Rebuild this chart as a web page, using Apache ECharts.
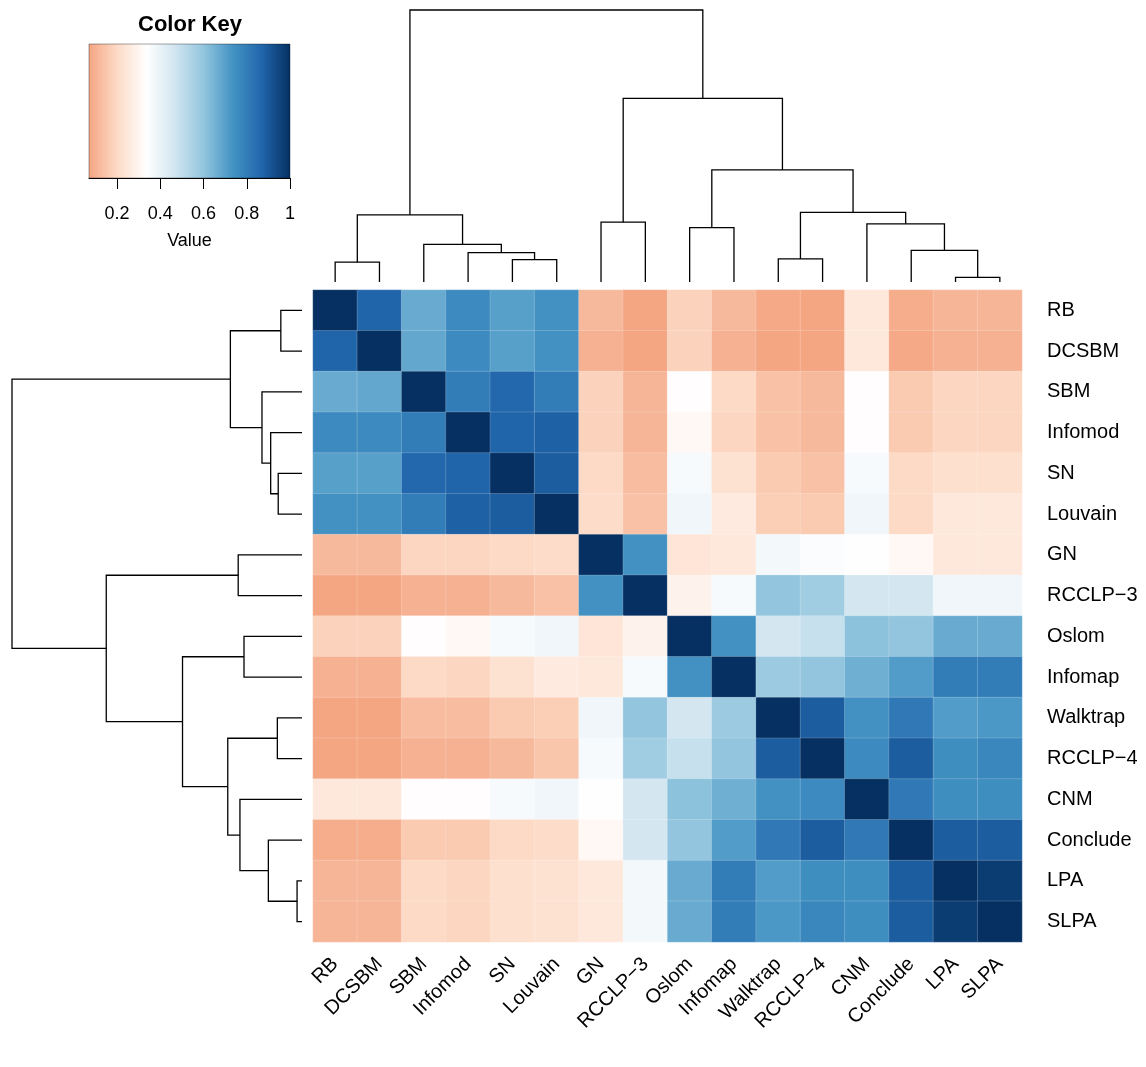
<!DOCTYPE html>
<html>
<head>
<meta charset="utf-8">
<title>Method similarity heatmap</title>
<script src="https://cdn.jsdelivr.net/npm/echarts@6/dist/echarts.min.js"></script>
<style>
  html, body { margin: 0; padding: 0; background: #fff; }
  #chart { width: 1146px; height: 1067px; }
</style>
</head>
<body>
<div id="chart"></div>
<script>
const methods = ['RB', 'DCSBM', 'SBM', 'Infomod', 'SN', 'Louvain', 'GN', 'RCCLP−3',
  'Oslom', 'Infomap', 'Walktrap', 'RCCLP−4', 'CNM', 'Conclude', 'LPA', 'SLPA']

// one row per method, same column order as methods
const rowRB       = [1.00, 0.87, 0.67, 0.76, 0.70, 0.74, 0.12, 0.07, 0.18, 0.12, 0.08, 0.07, 0.25, 0.09, 0.11, 0.11]
const rowDCSBM    = [0.87, 1.00, 0.68, 0.76, 0.70, 0.74, 0.10, 0.07, 0.18, 0.10, 0.07, 0.07, 0.25, 0.08, 0.10, 0.10]
const rowSBM      = [0.67, 0.68, 1.00, 0.80, 0.86, 0.80, 0.18, 0.11, 0.33, 0.20, 0.14, 0.12, 0.33, 0.16, 0.19, 0.19]
const rowInfomod  = [0.76, 0.76, 0.80, 1.00, 0.87, 0.88, 0.18, 0.11, 0.31, 0.19, 0.14, 0.12, 0.33, 0.16, 0.19, 0.19]
const rowSN       = [0.70, 0.70, 0.86, 0.87, 1.00, 0.89, 0.20, 0.13, 0.36, 0.23, 0.16, 0.14, 0.36, 0.20, 0.22, 0.22]
const rowLouvain  = [0.74, 0.74, 0.80, 0.88, 0.89, 1.00, 0.21, 0.14, 0.38, 0.26, 0.17, 0.16, 0.38, 0.20, 0.25, 0.25]
const rowGN       = [0.12, 0.12, 0.19, 0.19, 0.20, 0.21, 1.00, 0.74, 0.24, 0.25, 0.37, 0.35, 0.34, 0.31, 0.25, 0.25]
const rowRCCLP3   = [0.07, 0.07, 0.10, 0.10, 0.12, 0.14, 0.74, 1.00, 0.29, 0.36, 0.60, 0.57, 0.46, 0.46, 0.38, 0.38]
const rowOslom    = [0.18, 0.18, 0.33, 0.31, 0.36, 0.38, 0.24, 0.29, 1.00, 0.74, 0.46, 0.49, 0.61, 0.60, 0.67, 0.67]
const rowInfomap  = [0.10, 0.10, 0.20, 0.19, 0.23, 0.26, 0.25, 0.36, 0.74, 1.00, 0.58, 0.60, 0.66, 0.71, 0.80, 0.80]
const rowWalktrap = [0.07, 0.07, 0.13, 0.13, 0.16, 0.17, 0.38, 0.60, 0.46, 0.58, 1.00, 0.89, 0.74, 0.81, 0.71, 0.72]
const rowRCCLP4   = [0.07, 0.07, 0.10, 0.10, 0.12, 0.15, 0.36, 0.57, 0.49, 0.60, 0.89, 1.00, 0.76, 0.89, 0.75, 0.77]
const rowCNM      = [0.25, 0.25, 0.33, 0.33, 0.36, 0.38, 0.34, 0.46, 0.61, 0.66, 0.74, 0.76, 1.00, 0.81, 0.75, 0.75]
const rowConclude = [0.09, 0.09, 0.16, 0.16, 0.20, 0.21, 0.31, 0.46, 0.60, 0.71, 0.81, 0.89, 0.81, 1.00, 0.89, 0.89]
const rowLPA      = [0.11, 0.11, 0.20, 0.19, 0.22, 0.23, 0.25, 0.37, 0.67, 0.80, 0.71, 0.75, 0.75, 0.89, 1.00, 0.97]
const rowSLPA     = [0.11, 0.11, 0.20, 0.19, 0.22, 0.23, 0.25, 0.37, 0.67, 0.80, 0.72, 0.77, 0.75, 0.89, 0.97, 1.00]

const rows = [rowRB, rowDCSBM, rowSBM, rowInfomod, rowSN, rowLouvain, rowGN, rowRCCLP3,
  rowOslom, rowInfomap, rowWalktrap, rowRCCLP4, rowCNM, rowConclude, rowLPA, rowSLPA]

// hclust style merges: negative = leaf (1-based), positive = earlier merge step
const mergeLeft   = [-15, -1, -5, -11, -4, -14, -3, -9, -13, -7, 2, 4, 8, 10, 11]
const mergeRight  = [-16, -2, -6, -12, 3, 1, 5, -10, 6, -8, 7, 9, 12, 13, 14]
const mergeHeight = [0.017, 0.073, 0.082, 0.085, 0.108, 0.116, 0.138, 0.200, 0.214, 0.220, 0.247, 0.256, 0.412, 0.675, 1.0]

const keyMin = 0.07
const keyMax = 1
const keyTicks = [0.2, 0.4, 0.6, 0.8, 1]
const palette = ['#F4A582', '#FDDBC7', '#FFFFFF', '#D1E5F0', '#92C5DE', '#4393C3', '#2166AC', '#053061']

const font = '"Liberation Sans", Arial, Helvetica, sans-serif'

// heatmap cells
const heatData = []
rows.forEach((row, r) => {
  row.forEach((v, c) => heatData.push([c, r, v]))
})

// dendrogram segments, same tree for rows and columns
const nodeX = []
const nodeH = []
function child(ref) {
  if (ref < 0) return { x: -ref - 0.5, h: 0 }
  return { x: nodeX[ref - 1], h: nodeH[ref - 1] }
}
const segs = []
for (let i = 0; i < mergeHeight.length; i++) {
  const a = child(mergeLeft[i])
  const b = child(mergeRight[i])
  segs.push([a.x, a.h, b.x, b.h, mergeHeight[i]])
  nodeX.push((a.x + b.x) / 2)
  nodeH.push(mergeHeight[i])
}

function dendro(side) {
  return function (params, api) {
    const xa = api.value(0), ha = api.value(1), xb = api.value(2), hb = api.value(3), h = api.value(4)
    let pts = [[xa, ha], [xa, h], [xb, h], [xb, hb]]
    if (side === 'left') pts = pts.map(p => [p[1], p[0]])
    return {
      type: 'polyline',
      shape: { points: pts.map(p => api.coord(p)) },
      style: { stroke: '#000', lineWidth: 1.3, fill: null }
    }
  }
}

const chartInstance = echarts.init(document.getElementById('chart'))

const initOption = {
  animation: false,
  backgroundColor: '#fff',
  textStyle: { fontFamily: font },
  title: {
    text: 'Color Key',
    left: 185,
    top: 9,
    textAlign: 'center',
    textStyle: { fontSize: 22, fontWeight: 'bold', color: '#000', fontFamily: font }
  },
  grid: [
    // heatmap
    { left: 313, top: 290, width: 709, height: 652, outerBoundsMode: 'none' },
    // column dendrogram
    { left: 313, top: 10, width: 709, height: 272, outerBoundsMode: 'none' },
    // row dendrogram
    { left: 12, top: 290, width: 290, height: 652, outerBoundsMode: 'none' },
    // colour key
    { left: 89, top: 44, width: 201, height: 134, outerBoundsMode: 'none' }
  ],
  visualMap: {
    type: 'continuous',
    show: false,
    seriesIndex: 0,
    dimension: 2,
    min: keyMin,
    max: keyMax,
    inRange: { color: palette }
  },
  xAxis: [
    {
      gridIndex: 0,
      type: 'category',
      data: methods,
      position: 'bottom',
      axisLine: { show: false },
      axisTick: { show: false },
      splitLine: { show: false },
      axisLabel: { interval: 0, rotate: 45, fontSize: 20, margin: 19, color: '#000', fontFamily: font }
    },
    { gridIndex: 1, type: 'value', min: 0, max: 16, show: false },
    { gridIndex: 2, type: 'value', min: 0, max: 1, inverse: true, show: false },
    {
      gridIndex: 3,
      type: 'value',
      min: keyMin,
      max: keyMax,
      splitLine: { show: false },
      axisLine: { show: true, lineStyle: { color: '#000', width: 1 } },
      axisTick: { show: true, length: 11, customValues: keyTicks, lineStyle: { color: '#000', width: 1 } },
      axisLabel: {
        customValues: keyTicks,
        fontSize: 18,
        margin: 27,
        color: '#000',
        fontFamily: font,
        formatter: v => (v === 1 ? '1' : v.toFixed(1))
      },
      name: 'Value',
      nameLocation: 'middle',
      nameGap: 54,
      nameTextStyle: { fontSize: 18, color: '#000', fontFamily: font }
    }
  ],
  yAxis: [
    {
      gridIndex: 0,
      type: 'category',
      data: methods,
      inverse: true,
      position: 'right',
      axisLine: { show: false },
      axisTick: { show: false },
      splitLine: { show: false },
      axisLabel: { interval: 0, fontSize: 20, margin: 25, color: '#000', fontFamily: font }
    },
    { gridIndex: 1, type: 'value', min: 0, max: 1, show: false },
    { gridIndex: 2, type: 'value', min: 0, max: 16, inverse: true, show: false },
    { gridIndex: 3, type: 'value', min: 0, max: 1, show: false }
  ],
  series: [
    {
      type: 'heatmap',
      xAxisIndex: 0,
      yAxisIndex: 0,
      data: heatData,
      itemStyle: { borderColor: 'rgba(255,255,255,0.3)', borderWidth: 0.6 },
      emphasis: { disabled: true }
    },
    {
      type: 'custom',
      xAxisIndex: 1,
      yAxisIndex: 1,
      data: segs,
      renderItem: dendro('top'),
      silent: true
    },
    {
      type: 'custom',
      xAxisIndex: 2,
      yAxisIndex: 2,
      data: segs,
      renderItem: dendro('left'),
      silent: true
    },
    {
      type: 'custom',
      xAxisIndex: 3,
      yAxisIndex: 3,
      data: [[keyMin, keyMax]],
      silent: true,
      renderItem: function (params, api) {
        const p0 = api.coord([api.value(0), 1])
        const p1 = api.coord([api.value(1), 0])
        return {
          type: 'rect',
          shape: { x: p0[0], y: p0[1], width: p1[0] - p0[0], height: p1[1] - p0[1] },
          style: {
            fill: new echarts.graphic.LinearGradient(0, 0, 1, 0,
              palette.map((c, i) => ({ offset: i / (palette.length - 1), color: c }))),
            stroke: 'rgba(0,0,0,0.45)',
            lineWidth: 0.8
          }
        }
      }
    }
  ]
}
chartInstance.setOption(initOption)
</script>
</body>
</html>
